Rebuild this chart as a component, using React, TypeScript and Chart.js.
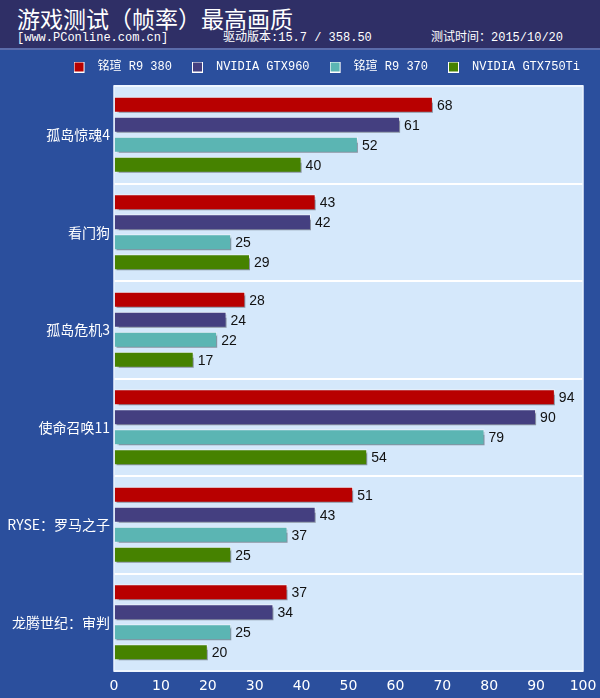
import React, { useEffect, useRef } from "react";
import { Chart, registerables } from "chart.js";

Chart.register(...registerables);

const titleText = "游戏测试（帧率）最高画质";
const siteText = "[www.PConline.com.cn]";
const driverText = "驱动版本:15.7 / 358.50";
const dateText = "测试时间：2015/10/20";

const categories = ["孤岛惊魂4", "看门狗", "孤岛危机3", "使命召唤11", "RYSE：罗马之子", "龙腾世纪：审判"];
const seriesNames = ["铭瑄 R9 380", "NVIDIA GTX960", "铭瑄 R9 370", "NVIDIA GTX750Ti"];
const r9380 = [68, 43, 28, 94, 51, 37];
const gtx960 = [61, 42, 24, 90, 43, 34];
const r9370 = [52, 25, 22, 79, 37, 25];
const gtx750ti = [40, 29, 17, 54, 25, 20];
const seriesColors = ["#b80000", "#443f80", "#5bb5b3", "#468200"];
const xMin = 0;
const xMax = 100;
const xStep = 10;

const makeBox = (color: string) => {
  const c = document.createElement("canvas");
  c.width = 18;
  c.height = 11;
  const g = c.getContext("2d")!;
  g.fillStyle = "#ffffff";
  g.fillRect(0, 0, 11, 11);
  g.fillStyle = color;
  g.fillRect(1, 1, 9, 9);
  return c;
};

const plotBg = {
  id: "plotBg",
  beforeDraw(chart: any) {
    const { ctx, chartArea: a } = chart;
    ctx.save();
    ctx.fillStyle = "#d5e8fb";
    ctx.fillRect(a.left, a.top, a.right - a.left, a.bottom - a.top);
    ctx.restore();
  },
  afterDraw(chart: any) {
    const { ctx, chartArea: a } = chart;
    ctx.save();
    ctx.strokeStyle = "#eaf4ff";
    ctx.lineWidth = 1.5;
    ctx.strokeRect(a.left, a.top, a.right - a.left, a.bottom - a.top);
    ctx.restore();
  },
};

const barShadow = {
  id: "barShadow",
  beforeDatasetsDraw(chart: any) {
    const ctx = chart.ctx;
    ctx.save();
    ctx.shadowColor = "rgba(70,80,100,0.6)";
    ctx.shadowOffsetX = 2;
    ctx.shadowOffsetY = 3;
    ctx.shadowBlur = 1;
  },
  afterDatasetsDraw(chart: any) {
    const ctx = chart.ctx;
    ctx.restore();
    ctx.save();
    ctx.fillStyle = "#111111";
    ctx.font = "14px 'Liberation Sans', sans-serif";
    ctx.textAlign = "left";
    ctx.textBaseline = "middle";
    chart.data.datasets.forEach((ds: any, i: number) => {
      const meta = chart.getDatasetMeta(i);
      meta.data.forEach((bar: any, j: number) => {
        ctx.fillText(String(ds.data[j]), bar.x + 4, bar.y + 1);
      });
    });
    ctx.restore();
  },
};

export default function App() {
  const ref = useRef<HTMLCanvasElement>(null);

  useEffect(() => {
    document.body.style.margin = "0";
    const boxes = seriesColors.map(makeBox);
    const values = [r9380, gtx960, r9370, gtx750ti];
    const chart = new Chart(ref.current!, {
      type: "bar",
      data: {
        labels: categories,
        datasets: seriesNames.map((name, i) => ({
          label: name,
          data: values[i],
          backgroundColor: seriesColors[i],
          borderColor: "#eef3fa",
          borderWidth: 1,
          categoryPercentage: 0.82,
          barPercentage: 0.8,
        })),
      },
      options: {
        indexAxis: "y",
        animation: false,
        responsive: false,
        maintainAspectRatio: false,
        layout: { padding: { top: 41, right: 0, bottom: 0, left: 0 } },
        scales: {
          x: {
            min: xMin,
            max: xMax,
            ticks: {
              stepSize: xStep,
              color: "#ffffff",
              font: { family: "'DejaVu Sans', sans-serif", size: 14 },
              padding: 3,
            },
            grid: {
              display: true,
              drawOnChartArea: false,
              drawTicks: true,
              tickLength: 4,
              color: "rgba(0,0,0,0)",
            },
            border: { display: false },
            afterFit: (s: any) => {
              s.height = 27;
            },
          },
          xTop: {
            type: "linear",
            position: "top",
            axis: "x",
            min: 0,
            max: 1,
            ticks: { display: false },
            grid: { display: false, drawTicks: false },
            border: { display: false },
            afterFit: (s: any) => {
              s.height = 3;
            },
          },
          y: {
            ticks: {
              color: "#ffffff",
              font: { family: "'Noto Sans CJK SC', sans-serif", size: 14 },
              padding: 4,
            },
            grid: { color: "#ffffff", lineWidth: 2, drawTicks: false, offset: true },
            border: { display: false },
            afterFit: (s: any) => {
              s.width = 114;
            },
          },
          yRight: {
            type: "linear",
            position: "right",
            axis: "y",
            min: 0,
            max: 1,
            ticks: { display: false },
            grid: { display: false, drawTicks: false },
            border: { display: false },
            afterFit: (s: any) => {
              s.width = 17;
            },
          },
        } as any,
        plugins: {
          legend: {
            position: "top",
            align: "end",
            labels: {
              color: "#ffffff",
              font: { family: "'Liberation Mono', 'Noto Sans CJK SC', monospace", size: 12 },
              usePointStyle: true,
              pointStyleWidth: 18,
              boxHeight: 11,
              padding: 20,
              generateLabels: (c: any) => {
                const items = (Chart.defaults.plugins.legend.labels as any).generateLabels(c);
                return items.map((it: any, i: number) => ({ ...it, pointStyle: boxes[i], fontColor: "#ffffff" }));
              },
            },
          },
          tooltip: { enabled: false },
        },
      },
      plugins: [plotBg, barShadow],
    });
    return () => chart.destroy();
  }, []);

  return (
    <div style={{ position: "relative", width: 600, height: 698, background: "#2b4f9d", overflow: "hidden" }}>
      <canvas ref={ref} width={600} height={698} style={{ position: "absolute", left: 0, top: 0 }} />
      <div
        style={{
          position: "absolute",
          left: 0,
          top: 0,
          width: 600,
          height: 48,
          background: "#2f2f66",
          borderBottom: "2px solid #5b6cab",
          color: "#ffffff",
        }}
      >
        <div style={{ position: "absolute", left: 17, top: 3, fontFamily: "'Noto Sans CJK SC', sans-serif", fontSize: 23, lineHeight: "30px", whiteSpace: "nowrap" }}>
          {titleText}
        </div>
        <div style={{ position: "absolute", left: 17, top: 30, fontFamily: "'Liberation Mono', 'Noto Sans CJK SC', monospace", fontSize: 12, lineHeight: "16px", whiteSpace: "nowrap" }}>
          {siteText}
        </div>
        <div style={{ position: "absolute", left: 223, top: 30, fontFamily: "'Liberation Mono', 'Noto Sans CJK SC', monospace", fontSize: 12, lineHeight: "16px", whiteSpace: "nowrap" }}>
          {driverText}
        </div>
        <div style={{ position: "absolute", left: 431, top: 30, fontFamily: "'Liberation Mono', 'Noto Sans CJK SC', monospace", fontSize: 12, lineHeight: "16px", whiteSpace: "nowrap" }}>
          {dateText}
        </div>
      </div>
    </div>
  );
}
